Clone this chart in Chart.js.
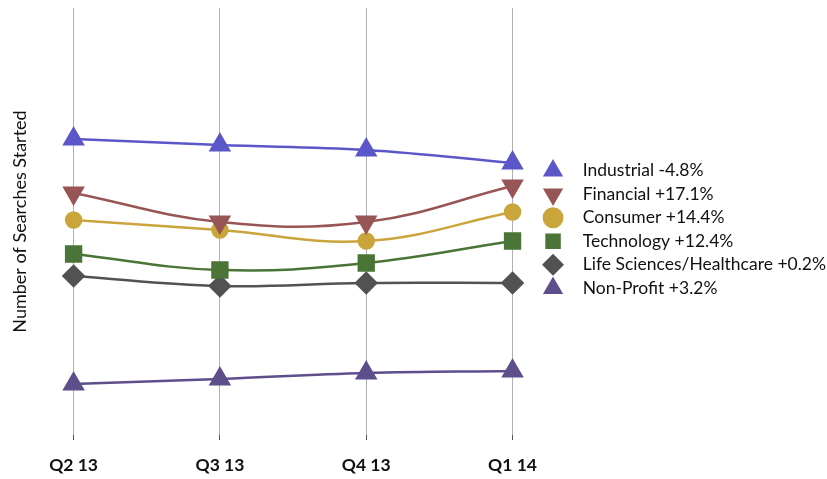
<!DOCTYPE html>
<html>
<head>
<meta charset="utf-8">
<script src="https://cdn.jsdelivr.net/npm/chart.js@4"></script>
<style>
  html, body { margin: 0; padding: 0; background: #fff; }
  #wrap { width: 827px; height: 479px; }
</style>
</head>
<body>
<div id="wrap"><canvas id="searchChart"></canvas></div>
<script>
const quarters = ["Q2 13", "Q3 13", "Q4 13", "Q1 14"];

const sectors = ["Industrial", "Financial", "Consumer", "Technology", "Life Sciences/Healthcare", "Non-Profit"];
const changes = ["-4.8%", "+17.1%", "+14.4%", "+12.4%", "+0.2%", "+3.2%"];

// relative search counts (no axis values shown)
const industrial = [296, 290, 285, 272];
const financial = [242, 213, 213, 249];
const consumer = [215, 205, 194, 223];
const technology = [181, 165, 172, 194];
const lifeSciences = [159, 149, 152, 152];
const nonProfit = [51, 56, 62, 64];

const colors = ["#5b57c9", "#985555", "#c9a53c", "#4b7437", "#525252", "#5e4e8c"];
const markers = ["triangle", "triangle", "circle", "rect", "rectRot", "triangle"];
const rotations = [0, 180, 0, 0, 0, 0];
const radii = [10.5, 10.5, 7.5, 10.5, 10, 10.5];

const series = [industrial, financial, consumer, technology, lifeSciences, nonProfit];
const font = "Lato, 'Open Sans', sans-serif";

const ctx = document.getElementById("searchChart");

new Chart(ctx, {
  type: "line",
  data: {
    labels: quarters,
    datasets: series.map((vals, i) => ({
      label: sectors[i] + " " + changes[i],
      data: vals,
      borderColor: colors[i],
      backgroundColor: colors[i],
      pointBackgroundColor: colors[i],
      pointBorderColor: colors[i],
      pointStyle: markers[i],
      pointRotation: rotations[i],
      pointRadius: radii[i],
      pointHoverRadius: radii[i],
      borderWidth: 2.5,
      tension: 0.4,
      fill: false
    }))
  },
  options: {
    responsive: true,
    maintainAspectRatio: false,
    animation: false,
    layout: { autoPadding: false, padding: { top: 8, left: 0, right: -9, bottom: 0 } },
    scales: {
      x: {
        grid: {
          color: "#b0b0b0",
          tickColor: "#555",
          tickLength: 5,
          lineWidth: 1
        },
        border: { display: false },
        ticks: {
          color: "#111",
          padding: 15,
          maxRotation: 0,
          font: { family: font, size: 17.5, weight: "bold" }
        },
        afterFit(scale) { scale.height = 44; }
      },
      y: {
        min: 0,
        max: 427,
        grid: { display: false, drawTicks: false },
        border: { display: false },
        ticks: { display: false },
        title: {
          display: true,
          text: "Number of Searches Started",
          color: "#111",
          padding: { top: 9, bottom: 43 },
          font: { family: font, size: 18 }
        }
      },
      // empty axis, only keeps a gap between the plot and the legend
      gap: {
        position: "right",
        grid: { display: false, drawTicks: false },
        border: { display: false },
        ticks: { display: false },
        afterFit(scale) { scale.width = 27; }
      }
    },
    plugins: {
      tooltip: { enabled: false },
      legend: {
        position: "right",
        fullSize: false,
        maxWidth: 360,
        title: { display: true, text: "", font: { size: 10 }, padding: 2 },
        labels: {
          usePointStyle: true,
          boxWidth: 15,
          boxHeight: 13,
          padding: 6,
          color: "#111",
          font: { family: font, size: 17.5 },
          generateLabels(chart) {
            const items = Chart.defaults.plugins.legend.labels.generateLabels(chart);
            items.forEach(it => { it.text = "   " + it.text; });
            return items;
          }
        }
      }
    }
  }
});
</script>
</body>
</html>
